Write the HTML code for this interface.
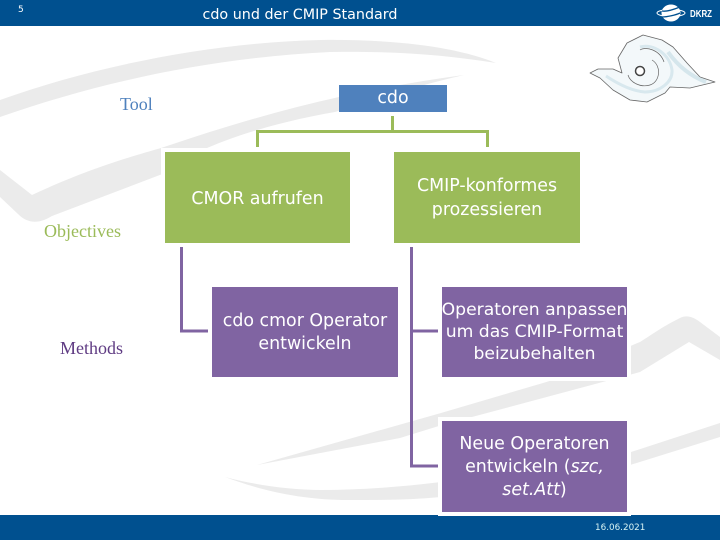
<!DOCTYPE html>
<html><head><meta charset="utf-8"><style>
html,body{margin:0;padding:0;background:#fff}
#p{position:relative;width:720px;height:540px;overflow:hidden;background:#fff;font-family:"DejaVu Sans","Liberation Sans",sans-serif}
.b{position:absolute;display:flex;align-items:center;justify-content:center;text-align:center;color:#fff;box-sizing:border-box;font-size:17.4px;line-height:23px;white-space:nowrap;box-shadow:0 0 0 4px #fff}
.g{background:#9bbb59}.v{background:#8064a2}
.s{position:absolute;font-family:"Liberation Serif",serif;font-size:18px;line-height:20px;white-space:nowrap}
svg{position:absolute;left:0;top:0}
</style></head><body><div id="p">
<svg width="720" height="540" viewBox="0 0 720 540">
<g fill="#ebebeb">
<path d="M0 100C100 64 220 42 321 40C400 39 460 48 496 63C440 54 390 51 330 52C210 58 100 82 0 117Z"/>
<path d="M0 170L32 195C90 168 130 157 161 148C220 128 280 110 339 97C380 88 420 81 464 75C420 85 380 98 335 112C290 120 250 130 207 148C190 158 180 165 165 173L52 216C42 222 30 226 18 214L0 197Z"/>
<path d="M720 337L700 322C692 316 686 315 680 318C660 328 650 336 640 342C610 354 580 372 543 383L441 413L257 465L400 438L442 425L640 372L689 342L720 360Z"/>
<path d="M225 477C255 485 290 490 321 490C360 490 400 487 441 482C510 475 580 465 631 452L720 423V437L630 465C570 482 510 492 441 497C410 500 380 500 349 500C300 500 260 490 225 477Z"/>
</g>
</svg>
<div style="position:absolute;left:0;top:0;width:720px;height:26px;background:#00508f"></div>
<div style="position:absolute;left:0;top:515px;width:720px;height:25px;background:#00508f"></div>
<div style="position:absolute;left:18px;top:5px;font-size:9px;line-height:11px;color:#fff">5</div>
<div style="position:absolute;left:100px;width:400px;top:6px;text-align:center;font-size:14.3px;line-height:18px;color:#fff">cdo und der CMIP Standard</div>
<div style="position:absolute;left:595px;top:523px;font-size:8.8px;line-height:11px;color:#d8f4f4">16.06.2021</div>
<svg width="720" height="540" viewBox="0 0 720 540">
<ellipse cx="671" cy="13" rx="14" ry="3.500" fill="none" stroke="#fff" stroke-width="1"/>
<ellipse cx="671" cy="13" rx="9.500" ry="8.500" fill="#fff"/>
<path d="M662 11C667 12 675 9 680 7M662 17C667 17 676 15 680 13" fill="none" stroke="#00508f" stroke-width="1.300"/>
<text x="690" y="17" font-family="Liberation Sans,sans-serif" font-size="10" font-weight="bold" fill="#fff" textLength="22" lengthAdjust="spacingAndGlyphs">DKRZ</text>
<path d="M590 73L598 69L613 69L622 73L618 58L627 43L643 35L662 40L673 47L687 63L700 77L715 82L690 88L670 87L665 93L647 102L630 100L613 90L600 78Z" fill="#f3f8fa" stroke="#666" stroke-width=".8" stroke-linejoin="round"/>
<path d="M640 47C654 43 670 55 672 70C673 82 660 92 645 92C632 91 618 84 606 76" fill="none" stroke="#d8e8ee" stroke-width="3"/>
<path d="M668 52C678 66 690 76 706 82" fill="none" stroke="#d5e6ec" stroke-width="4"/>
<path d="M640 50C646 46 660 50 664 62M628 75C630 82 640 88 650 85C660 82 662 66 652 60" fill="none" stroke="#666" stroke-width=".7"/>
<circle cx="640" cy="71" r="4.500" fill="#fff" stroke="#444" stroke-width="1.500"/>
<g fill="none" stroke="#9bbb59" stroke-width="3">
<path d="M392.500 116V130M257.500 147V131.500H487.500V147"/>
</g>
<g fill="none" stroke="#8064a2" stroke-width="3">
<path d="M181.500 247V331H208M411.500 247V466H438M411.500 331H438"/>
</g>
</svg>
<div class="s" style="left:120px;top:94px;color:#4f81bd">Tool</div>
<div class="s" style="left:44px;top:221px;color:#9bbb59">Objectives</div>
<div class="s" style="left:60px;top:338px;color:#5f3b83">Methods</div>
<div class="b" style="left:339px;top:85px;width:108px;height:27px;background:#4f81bd;box-shadow:none"><div>cdo</div></div>
<div class="b g" style="left:165px;top:152px;width:185px;height:91px;padding-top:3px"><div>CMOR aufrufen</div></div>
<div class="b g" style="left:394px;top:152px;width:186px;height:91px;line-height:24px"><div>CMIP-konformes<br>prozessieren</div></div>
<div class="b v" style="left:212px;top:287px;width:186px;height:90px;padding-top:2px"><div>cdo cmor Operator<br>entwickeln</div></div>
<div class="b v" style="left:442px;top:287px;width:185px;height:90px;font-size:17.2px;line-height:22px"><div>Operatoren anpassen<br>um das CMIP-Format<br>beizubehalten</div></div>
<div class="b v" style="left:442px;top:421px;width:185px;height:91px;padding-top:2px"><div>Neue Operatoren<br>entwickeln (<i>szc,</i><br><i>set.Att</i>)</div></div>
</div></body></html>
